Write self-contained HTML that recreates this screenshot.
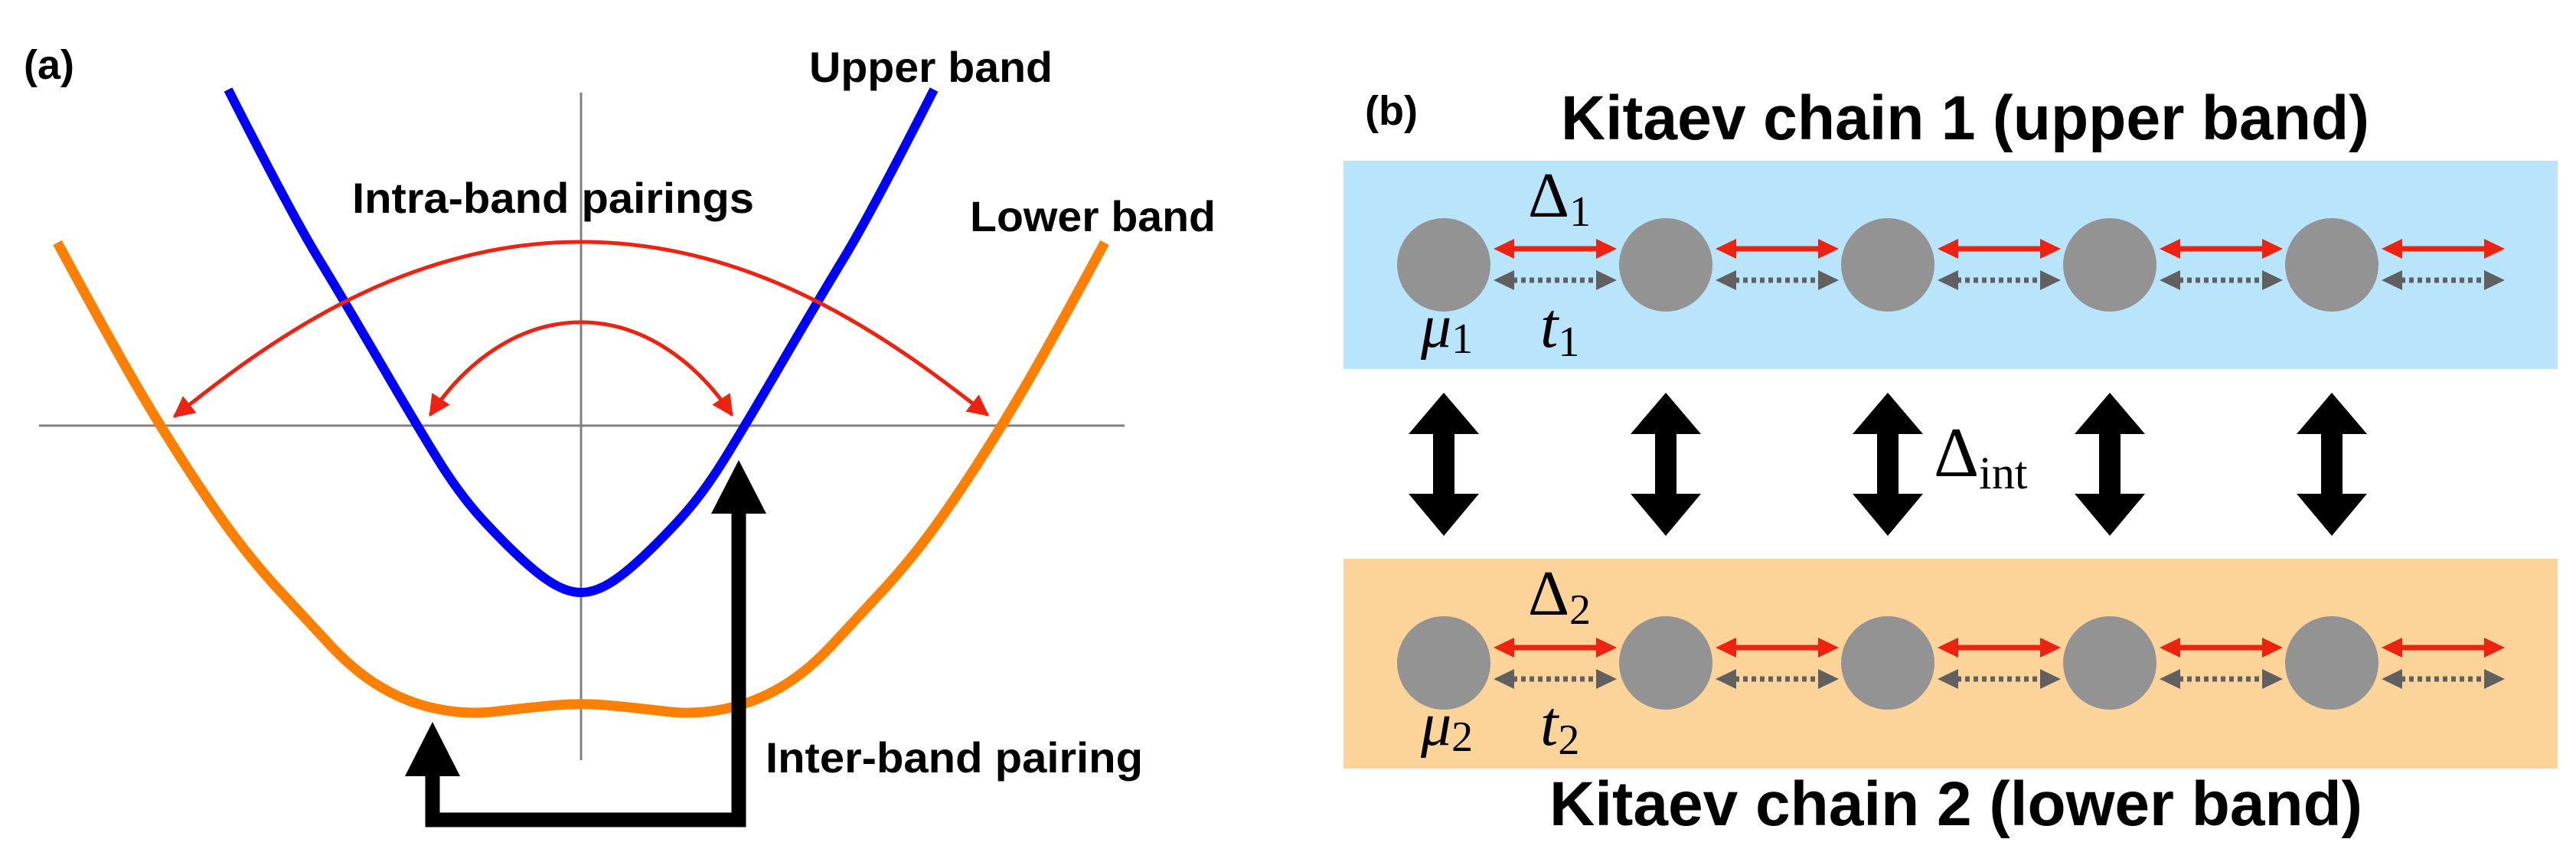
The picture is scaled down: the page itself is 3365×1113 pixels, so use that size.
<!DOCTYPE html>
<html><head><meta charset="utf-8"><style>html,body{margin:0;padding:0;background:#fff}svg{display:block}</style></head>
<body>
<svg width="3365" height="1113" viewBox="0 0 3365 1113" xmlns="http://www.w3.org/2000/svg">
<defs>
<marker id="rh" viewBox="0 0 10 10" refX="9" refY="5" markerWidth="34" markerHeight="28" markerUnits="userSpaceOnUse" orient="auto-start-reverse"><path d="M0,0 L10,5 L0,10 z" fill="#ee2211"/></marker>
</defs>
<!-- Panel (a) -->
<text x="31" y="103" font-family="Liberation Sans, sans-serif" font-weight="bold" font-size="54">(a)</text>
<line x1="759" y1="121" x2="759" y2="993" stroke="#808080" stroke-width="3"/>
<line x1="51" y1="556" x2="1469" y2="556" stroke="#808080" stroke-width="3"/>
<path fill="none" stroke="#ff8000" stroke-width="13" d="M75,317 Q142,441 175,498 Q208,555 244,610.5 Q280,666 307.5,702.5 Q335,739 367,773.5 Q399,808 431,842.5 Q463,877 497.5,897.5 Q532,918 571,926 Q610,934 647,929.5 Q684,925 721.5,921.5 Q759,918 796.5,921.5 Q834,925 871,929.5 Q908,934 947,926 Q986,918 1020.5,897.5 Q1055,877 1087,842.5 Q1119,808 1151,773.5 Q1183,739 1210.5,702.5 Q1238,666 1274,610.5 Q1310,555 1343,498 Q1376,441 1443,317"/>
<path fill="none" stroke="#0000ff" stroke-width="12" d="M298,117 Q381,280 415,336 Q449,392 496.5,473.5 Q544,555 572.5,601 Q601,647 631,679.5 Q661,712 686,734.5 C711,757 735,774 759,774 C783,774 807,757 832,734.5 Q857,712 887,679.5 Q917,647 945.5,601 Q974,555 1021.5,473.5 Q1069,392 1103,336 Q1137,280 1220,117"/>
<path d="M1290,542 C1178,455 998,316 759,316 C520,316 340,455 228,544" fill="none" stroke="#ee2211" stroke-width="5" marker-start="url(#rh)" marker-end="url(#rh)"/>
<path d="M956,542 C908,470 838,421 759,421 C680,421 610,470 562,542" fill="none" stroke="#ee2211" stroke-width="5" marker-start="url(#rh)" marker-end="url(#rh)"/>
<path d="M565,1014 L565,1071 L965,1071 L965,671" fill="none" stroke="#000" stroke-width="19" stroke-linejoin="miter"/>
<polygon points="565,943 601,1014 529,1014" fill="#000"/>
<polygon points="965,601 1001,671 929,671" fill="#000"/>
<g font-family="Liberation Sans, sans-serif" font-weight="bold" font-size="56">
<text x="1057" y="107" textLength="318" lengthAdjust="spacingAndGlyphs">Upper band</text>
<text x="460" y="278" textLength="525" lengthAdjust="spacingAndGlyphs">Intra-band pairings</text>
<text x="1267" y="302" textLength="321" lengthAdjust="spacingAndGlyphs">Lower band</text>
<text x="1000" y="1009" textLength="493" lengthAdjust="spacingAndGlyphs">Inter-band pairing</text>
</g>
<!-- Panel (b) -->
<text x="1783" y="163" font-family="Liberation Sans, sans-serif" font-weight="bold" font-size="54">(b)</text>
<g font-family="Liberation Sans, sans-serif" font-weight="bold" font-size="82">
<text x="2039" y="182" textLength="1056" lengthAdjust="spacingAndGlyphs">Kitaev chain 1 (upper band)</text>
<text x="2024" y="1078" textLength="1062" lengthAdjust="spacingAndGlyphs">Kitaev chain 2 (lower band)</text>
</g>
<rect x="1755" y="210" width="1586" height="272" fill="#b9e5fc"/>
<rect x="1755" y="730" width="1586" height="274" fill="#fcd499"/>
<g fill="#939393"><circle cx="1886" cy="346" r="61"/><circle cx="2176" cy="346" r="61"/><circle cx="2466" cy="346" r="61"/><circle cx="2756" cy="346" r="61"/><circle cx="3046" cy="346" r="61"/></g>
<g>
<g stroke="#ee2211" stroke-width="7"><line x1="1974" y1="325" x2="2090" y2="325"/><line x1="2264" y1="325" x2="2380" y2="325"/><line x1="2554" y1="325" x2="2670" y2="325"/><line x1="2844" y1="325" x2="2960" y2="325"/><line x1="3134" y1="325" x2="3250" y2="325"/></g>
<g stroke="#606060" stroke-width="7" stroke-dasharray="6,5"><line x1="1976" y1="366" x2="2088" y2="366"/><line x1="2266" y1="366" x2="2378" y2="366"/><line x1="2556" y1="366" x2="2668" y2="366"/><line x1="2846" y1="366" x2="2958" y2="366"/><line x1="3136" y1="366" x2="3248" y2="366"/></g>
<g stroke="#ee2211" stroke-width="7"><line x1="1974" y1="846" x2="2090" y2="846"/><line x1="2264" y1="846" x2="2380" y2="846"/><line x1="2554" y1="846" x2="2670" y2="846"/><line x1="2844" y1="846" x2="2960" y2="846"/><line x1="3134" y1="846" x2="3250" y2="846"/></g>
<g stroke="#606060" stroke-width="7" stroke-dasharray="6,5"><line x1="1976" y1="887" x2="2088" y2="887"/><line x1="2266" y1="887" x2="2378" y2="887"/><line x1="2556" y1="887" x2="2668" y2="887"/><line x1="2846" y1="887" x2="2958" y2="887"/><line x1="3136" y1="887" x2="3248" y2="887"/></g>
</g>
<g fill="#ee2211">
<path d="M1951,325 l27,-13 v26z M2112,325 l-27,-13 v26z M2241,325 l27,-13 v26z M2402,325 l-27,-13 v26z M2531,325 l27,-13 v26z M2692,325 l-27,-13 v26z M2821,325 l27,-13 v26z M2982,325 l-27,-13 v26z M3111,325 l27,-13 v26z M3272,325 l-27,-13 v26z"/>
<path d="M1951,846 l27,-13 v26z M2112,846 l-27,-13 v26z M2241,846 l27,-13 v26z M2402,846 l-27,-13 v26z M2531,846 l27,-13 v26z M2692,846 l-27,-13 v26z M2821,846 l27,-13 v26z M2982,846 l-27,-13 v26z M3111,846 l27,-13 v26z M3272,846 l-27,-13 v26z"/>
</g>
<g fill="#606060">
<path d="M1951,366 l27,-13 v26z M2112,366 l-27,-13 v26z M2241,366 l27,-13 v26z M2402,366 l-27,-13 v26z M2531,366 l27,-13 v26z M2692,366 l-27,-13 v26z M2821,366 l27,-13 v26z M2982,366 l-27,-13 v26z M3111,366 l27,-13 v26z M3272,366 l-27,-13 v26z"/>
<path d="M1951,887 l27,-13 v26z M2112,887 l-27,-13 v26z M2241,887 l27,-13 v26z M2402,887 l-27,-13 v26z M2531,887 l27,-13 v26z M2692,887 l-27,-13 v26z M2821,887 l27,-13 v26z M2982,887 l-27,-13 v26z M3111,887 l27,-13 v26z M3272,887 l-27,-13 v26z"/>
</g>
<g fill="#939393"><circle cx="1886" cy="866" r="61"/><circle cx="2176" cy="866" r="61"/><circle cx="2466" cy="866" r="61"/><circle cx="2756" cy="866" r="61"/><circle cx="3046" cy="866" r="61"/></g>
<g fill="#000">
<path d="M1886,513 l46,54 h-32 v78 h32 l-46,55 l-46,-55 h32 v-78 h-32z"/>
<path d="M2176,513 l46,54 h-32 v78 h32 l-46,55 l-46,-55 h32 v-78 h-32z"/>
<path d="M2466,513 l46,54 h-32 v78 h32 l-46,55 l-46,-55 h32 v-78 h-32z"/>
<path d="M2756,513 l46,54 h-32 v78 h32 l-46,55 l-46,-55 h32 v-78 h-32z"/>
<path d="M3046,513 l46,54 h-32 v78 h32 l-46,55 l-46,-55 h32 v-78 h-32z"/>
</g>
<g font-family="Liberation Serif, serif" fill="#000">
<text x="1996" y="283" font-size="84">Δ<tspan font-size="56" dy="12">1</tspan></text>
<text x="1996" y="803" font-size="84">Δ<tspan font-size="56" dy="12">2</tspan></text>
<text x="1856" y="453" font-size="80" font-style="italic">μ<tspan font-size="56" font-style="normal" dy="8">1</tspan></text>
<text x="1856" y="973" font-size="80" font-style="italic">μ<tspan font-size="56" font-style="normal" dy="8">2</tspan></text>
<text x="2012" y="453" font-size="84" font-style="italic">t<tspan font-size="56" font-style="normal" dy="12">1</tspan></text>
<text x="2012" y="973" font-size="84" font-style="italic">t<tspan font-size="56" font-style="normal" dy="12">2</tspan></text>
<text x="2526" y="622" font-size="92">Δ<tspan font-size="60" dy="16">int</tspan></text>
</g>
</svg>
</body></html>
